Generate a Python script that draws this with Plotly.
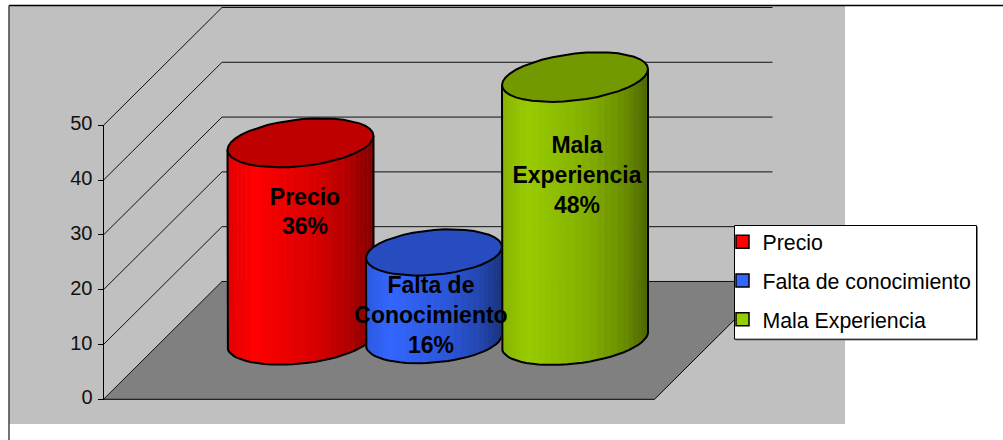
import math
import plotly.graph_objects as go

# ---- data ----
categorias = ["Precio", "Falta de conocimiento", "Mala Experiencia"]
valores = [36, 16, 48]
etiquetas = ["Precio<br>36%", "Falta de<br>Conocimiento<br>16%", "Mala<br>Experiencia<br>48%"]
ticks = [0, 10, 20, 30, 40, 50]

# ---- styles ----
colores = [(255, 0, 0), (51, 102, 255), (153, 204, 0)]
W, H = 1003, 440
PX_UNIT = 5.48            # pixels per value unit
Y0_PX = 399.3             # pixel row of value 0
centros_x = [300.5, 434, 575]
semi_a = [73, 68, 73]
semi_b = [23.5, 22.5, 23.5]
incl = [7, 5.5, 8]
base_v = 10.8             # height of cylinder base centre above front edge
etiqueta_x = [305, 431, 577]
etiqueta_v = [33.85, 15.0, 40.55]
DX, DV = 118.5, 21.5      # wall depth
AX_X, FRONT_R = 103.5, 654.5


def vy(px):
    return (Y0_PX - px) / PX_UNIT


def shade(u):
    pts = [(0, .88), (.18, 1.0), (.6, .85), (.85, .68), (1, .5)]
    for (a, fa), (b, fb) in zip(pts, pts[1:]):
        if u <= b:
            return fa + (fb - fa) * (u - a) / (b - a)
    return .5


def rgb(c, f):
    return "rgb(%d,%d,%d)" % tuple(round(k * f) for k in c)


def punto(cx, cv, a, b, k, phi):
    return cx + a * math.cos(phi), cv - (b * math.sin(phi) - k * math.cos(phi)) / PX_UNIT


fig = go.Figure()


def poly(xs, ys, fill=None, line=None, width=1):
    fig.add_trace(go.Scatter(
        x=xs, y=ys, mode="lines", showlegend=False, hoverinfo="skip",
        fill="toself" if fill else None, fillcolor=fill,
        line=dict(color=line or "rgba(0,0,0,0)", width=width if line else 0)))


# floor
top = ticks[-1]
poly([AX_X, FRONT_R, FRONT_R + DX, AX_X + DX, AX_X], [0, 0, DV, DV, 0], fill="#808080")
# walls + grid
for t in ticks:
    poly([AX_X, AX_X + DX, FRONT_R + DX - 0.5], [t, t + DV, t + DV], line="#111111", width=1)
poly([AX_X, FRONT_R, FRONT_R + DX], [0, 0, DV], line="#000000", width=1)
poly([AX_X, AX_X], [0, top], line="#000000", width=1)

# cylinders
N = 30
for c, v, cx, a, b, k in zip(colores, valores, centros_x, semi_a, semi_b, incl):
    techo = base_v + v
    for i in range(N):
        p1 = math.pi * (1 - i / N)
        p2 = math.pi * (1 - (i + 1) / N)
        x1, yb1 = punto(cx, base_v, a, b, k, p1)
        x2, yb2 = punto(cx, base_v, a, b, k, p2)
        _, yt1 = punto(cx, techo, a, b, k, p1)
        _, yt2 = punto(cx, techo, a, b, k, p2)
        u = ((x1 + x2) / 2 - (cx - a)) / (2 * a)
        col = rgb(c, shade(u))
        poly([x1, x2, x2, x1, x1], [yb1, yb2, yt2, yt1, yb1], fill=col, line=col, width=0.7)
    # outline of body
    arc = [punto(cx, base_v, a, b, k, math.pi * (1 - i / N)) for i in range(N + 1)]
    left_top = punto(cx, techo, a, b, k, math.pi)
    right_top = punto(cx, techo, a, b, k, 0)
    xs = [left_top[0]] + [p[0] for p in arc] + [right_top[0]]
    ys = [left_top[1]] + [p[1] for p in arc] + [right_top[1]]
    poly(xs, ys, line="#000000", width=2)
    # top cap
    cap = [punto(cx, techo, a, b, k, 2 * math.pi * i / 40) for i in range(41)]
    poly([p[0] for p in cap], [p[1] for p in cap], fill=rgb(c, .75), line="#000000", width=2)

# data labels
for txt, x, v in zip(etiquetas, etiqueta_x, etiqueta_v):
    fig.add_trace(go.Scatter(
        x=[x], y=[v], mode="text", text=[txt], showlegend=False, hoverinfo="skip",
        textposition="middle center",
        textfont=dict(family="Liberation Sans", size=23, color="#000000", weight="bold")))

# legend entries
for i, (nombre, c) in enumerate(zip(categorias, colores)):
    fig.add_trace(go.Scatter(
        x=[None], y=[None], mode="markers", name=nombre, legendgroup=nombre,
        marker=dict(symbol="square", size=13, color=rgb(c, 1), line=dict(color="#000000", width=1.5))))

fig.update_layout(
    width=W, height=H, margin=dict(l=0, r=0, t=0, b=0),
    paper_bgcolor="#ffffff", plot_bgcolor="#ffffff",
    font=dict(family="Liberation Sans", color="#000000"),
    xaxis=dict(range=[0, W], visible=False, fixedrange=True),
    yaxis=dict(range=[vy(H), vy(0)], anchor="free", position=AX_X / W,
               tickvals=ticks, ticktext=[str(t) for t in ticks],
               ticks="outside", ticklen=6, tickcolor="#000000", tickwidth=1,
               showgrid=False, zeroline=False, showline=False,
               ticklabelshift=-2, ticklabelstandoff=1,
               tickfont=dict(size=20, color="#111111"), fixedrange=True),
    legend=dict(x=722.5 / W, y=1 - 221.5 / H, xanchor="left", yanchor="top",
                bgcolor="rgba(0,0,0,0)", borderwidth=0,
                font=dict(size=21.3), itemwidth=30, tracegroupgap=8,
                itemclick=False, itemdoubleclick=False),
    shapes=[
        dict(type="rect", layer="below", xref="x", yref="y", x0=9, x1=845, y0=vy(424), y1=vy(6),
             fillcolor="#c0c0c0", line=dict(width=0)),
        dict(type="line", layer="above", xref="x", yref="y", x0=9, x1=W, y0=vy(5.5), y1=vy(5.5),
             line=dict(color="#000000", width=1.5)),
        dict(type="line", layer="above", xref="x", yref="y", x0=9, x1=9, y0=vy(5.5), y1=vy(H),
             line=dict(color="#444444", width=1.5)),
        # legend box with its thin shadow
        dict(type="rect", layer="above", xref="x", yref="y", x0=735.5, x1=978, y0=vy(340.5), y1=vy(226.5),
             fillcolor="#808080", line=dict(width=0)),
        dict(type="rect", layer="above", xref="x", yref="y", x0=734.5, x1=976.5, y0=vy(339.2), y1=vy(225.5),
             fillcolor="#ffffff", line=dict(color="#000000", width=1)),
    ],
)

fig.write_html("out.html", config=dict(displayModeBar=False),
               post_script="document.body.style.margin='0';document.body.style.overflow='hidden';")
